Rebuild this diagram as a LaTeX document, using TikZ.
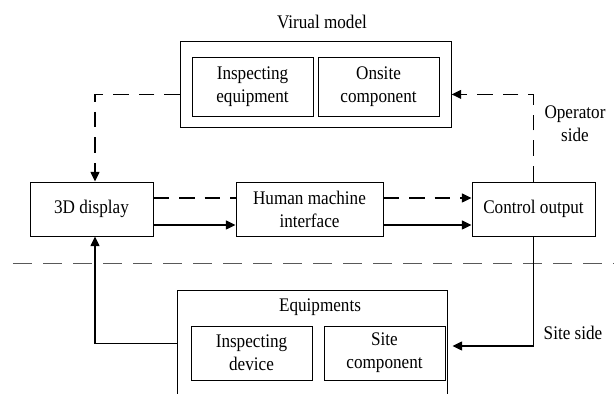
\documentclass[tikz,border=0pt]{standalone}
\usepackage{fontspec}
\setmainfont{Liberation Serif}[FakeStretch=0.89]
\usetikzlibrary{arrows.meta}

\begin{document}
\begin{tikzpicture}[
	font=\fontsize{13.7}{16.4}\selectfont,
	box/.style={draw,line width=0.6pt,minimum height=1.35cm,align=center,inner sep=0pt},
	link/.style={line width=1.1pt,-{Triangle[length=0.24cm,width=0.22cm]}},
	dashlink/.style={link,dash pattern=on 0.39cm off 0.25cm},
	plaindash/.style={line width=1.1pt,dash pattern=on 0.39cm off 0.25cm}
]
	\clip (0,0) rectangle (15.35,9.85);
	% virtual model on the operator side
	\node[box,minimum width=6.77cm,minimum height=2.15cm] (virtual) at (7.895,7.75) {};
	\node (virtuallabel) at (8.05,9.30) {Virual model};
	\node[box,minimum width=3.025cm,minimum height=1.475cm] (inspeq) at (6.3125,7.6875) {Inspecting\\equipment};
	\node[box,minimum width=3.025cm,minimum height=1.475cm] (onsite) at (9.4625,7.6875) {Onsite\\component};
	% middle row
	\node[box,minimum width=3.075cm] (display) at (2.2875,4.625) {3D display};
	\node[box,minimum width=3.675cm] (hmi) at (7.7375,4.625) {Human machine\\interface};
	\node[box,minimum width=3.075cm] (ctrl) at (13.3375,4.625) {Control output};
	% equipments on the site side
	\node[box,minimum width=6.75cm,minimum height=3.1cm] (equip) at (7.8,1.05) {};
	\node (equiplabel) at (8.0,2.175) {Equipments};
	\node[box,minimum width=3.025cm] (inspdev) at (6.2875,1.025) {Inspecting\\device};
	\node[box,minimum width=3.025cm] (sitecomp) at (9.6125,1.025) {Site\\component};
	% side labels
	\node[align=center] (opside) at (14.375,6.75) {Operator\\side};
	\node (siteside) at (14.325,1.525) {Site side};
	% boundary between the two sides
	\draw[gray!70!black,line width=0.6pt,dash pattern=on 0.475cm off 0.275cm] (0.325,3.275) -- (15.35,3.275);
	% dashed links
	\draw[dashlink] ([yshift=-0.26cm]virtual.west) -| ([xshift=0.0875cm]display.north);
	\draw[dashlink] (ctrl.north) |- ([yshift=-0.26cm]virtual.east);
	\draw[plaindash] ([yshift=0.275cm]display.east) -- ([yshift=0.275cm]hmi.west);
	\draw[dashlink] ([yshift=0.275cm]hmi.east) -- ([yshift=0.275cm]ctrl.west);
	% solid links
	\draw[link] ([yshift=-0.4cm]display.east) -- ([yshift=-0.4cm]hmi.west);
	\draw[link] ([yshift=-0.4cm]hmi.east) -- ([yshift=-0.4cm]ctrl.west);
	\draw[link] (ctrl.south) |- ([xshift=0.125cm,yshift=0.15cm]equip.east);
	\draw[link] ([yshift=0.2125cm]equip.west) -| ([xshift=0.0875cm]display.south);
\end{tikzpicture}
\end{document}
